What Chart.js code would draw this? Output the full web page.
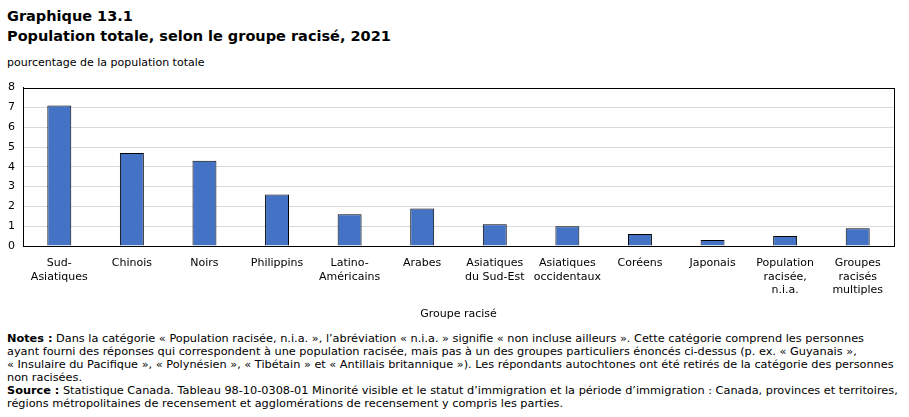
<!DOCTYPE html>
<html lang="fr">
<head>
<meta charset="utf-8">
<script src="https://cdn.jsdelivr.net/npm/chart.js@4"></script>
<style>
  body { margin: 0; background: #fff; font-family: "DejaVu Sans", Verdana, sans-serif; color: #000; }
  #titre { position: absolute; left: 7px; top: 6px; font-weight: bold; font-size: 14.5px; line-height: 20px; }
  #unite { position: absolute; left: 7px; top: 56px; font-size: 11px; }
  #zone { position: absolute; left: 0; top: 73px; width: 909px; height: 252px; }
  #notes { position: absolute; left: 7px; top: 332px; font-size: 11.3px; line-height: 13px; white-space: nowrap; }
</style>
</head>
<body>
<div id="titre">Graphique 13.1<br>Population totale, selon le groupe racisé, 2021</div>
<div id="unite">pourcentage de la population totale</div>
<div id="zone"><canvas id="graphique"></canvas></div>
<div id="notes">
<b>Notes :</b> Dans la catégorie « Population racisée, n.i.a. », l’abréviation « n.i.a. » signifie « non incluse ailleurs ». Cette catégorie comprend les personnes<br>
ayant fourni des réponses qui correspondent à une population racisée, mais pas à un des groupes particuliers énoncés ci-dessus (p. ex. « Guyanais »,<br>
« Insulaire du Pacifique », « Polynésien », « Tibétain » et « Antillais britannique »). Les répondants autochtones ont été retirés de la catégorie des personnes<br>
non racisées.<br>
<b>Source :</b> Statistique Canada. Tableau 98-10-0308-01 Minorité visible et le statut d’immigration et la période d’immigration : Canada, provinces et territoires,<br>
régions métropolitaines de recensement et agglomérations de recensement y compris les parties.
</div>
<script>
// Groupes racisés (étiquettes sur plusieurs lignes)
const groupes = [
  ['Sud-', 'Asiatiques'],
  'Chinois',
  'Noirs',
  'Philippins',
  ['Latino-', 'Américains'],
  'Arabes',
  ['Asiatiques', 'du Sud-Est'],
  ['Asiatiques', 'occidentaux'],
  'Coréens',
  'Japonais',
  ['Population', 'racisée,', 'n.i.a.'],
  ['Groupes', 'racisés', 'multiples']
];
// pourcentage de la population totale
const pourcentages = [7.1, 4.7, 4.3, 2.6, 1.6, 1.9, 1.1, 1.0, 0.6, 0.3, 0.5, 0.9];
const ticksY = [0, 1, 2, 3, 4, 5, 6, 7, 8];

// cadre noir autour de la zone du graphique
const cadre = {
  id: 'cadre',
  afterDraw(chart) {
    const a = chart.chartArea;
    const c = chart.ctx;
    c.save();
    c.strokeStyle = '#000';
    c.lineWidth = 1;
    c.strokeRect(Math.round(a.left) + 0.5, Math.round(a.top) + 0.5,
      Math.round(a.right - a.left), Math.round(a.bottom - a.top));
    c.restore();
  }
};

Chart.defaults.font.family = '"DejaVu Sans", Verdana, sans-serif';
Chart.defaults.font.size = 11;
Chart.defaults.color = '#000';

new Chart(document.getElementById('graphique'), {
  type: 'bar',
  data: {
    labels: groupes,
    datasets: [{
      data: pourcentages,
      backgroundColor: '#4472c4',
      borderColor: '#000',
      borderWidth: 1,
      barPercentage: 0.33,
      categoryPercentage: 1
    }]
  },
  options: {
    responsive: true,
    maintainAspectRatio: false,
    animation: false,
    layout: { padding: { top: 1, right: 15 } },
    plugins: { legend: { display: false }, tooltip: { enabled: false } },
    scales: {
      x: {
        grid: { display: false },
        border: { color: '#000' },
        ticks: { maxRotation: 0, autoSkip: false, padding: 3 },
        title: { display: true, text: 'Groupe racisé', padding: { top: 6 } },
        afterFit(s) { s.height = 79; }
      },
      y: {
        min: 0,
        max: 8,
        afterBuildTicks(s) { s.ticks = ticksY.map(v => ({ value: v })); },
        grid: {
          drawTicks: false,
          color: ctx => (ctx.tick.value === 0 || ctx.tick.value === 8) ? 'rgba(0,0,0,0)' : '#d9d9d9'
        },
        border: { color: '#000' },
        ticks: { padding: 8 },
        afterFit(s) { s.width = 23; }
      }
    }
  },
  plugins: [cadre]
});
</script>
</body>
</html>
